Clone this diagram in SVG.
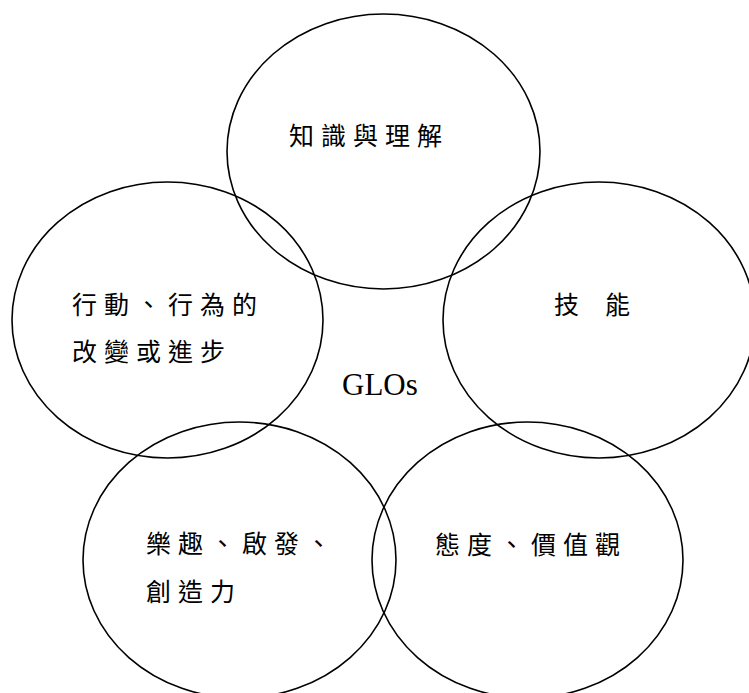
<svg xmlns="http://www.w3.org/2000/svg" width="749" height="693" viewBox="0 0 749 693">
<style>
.c{fill:none;stroke:#000;stroke-width:1.6}
.t{font-family:"Liberation Serif","Noto Sans CJK TC",serif;font-size:25px;letter-spacing:7px;fill:#000}
.g{font-family:"Liberation Serif",serif;font-size:31px;fill:#000}
</style>
<rect width="749" height="693" fill="#fff"/>
<g id="knowledge"><ellipse class="c" cx="383.5" cy="151.5" rx="156.5" ry="137.5"/><text class="t" x="289" y="145">知識與理解</text></g>
<g id="action"><ellipse class="c" cx="167.5" cy="320" rx="155.5" ry="138"/><text class="t" x="72" y="314">行動、行為的</text><text class="t" x="72" y="361">改變或進步</text></g>
<g id="skills"><ellipse class="c" cx="599" cy="320" rx="156" ry="138"/><text class="t" x="554" y="314">技</text><text class="t" x="605" y="314">能</text></g>
<g id="enjoyment"><ellipse class="c" cx="239.5" cy="560" rx="156.5" ry="138"/><text class="t" x="146" y="553">樂趣、啟發、</text><text class="t" x="146" y="601">創造力</text></g>
<g id="attitudes"><ellipse class="c" cx="527.5" cy="560" rx="155.5" ry="138"/><text class="t" x="435" y="554">態度、價值觀</text></g>
<g id="center"><text class="g" x="342" y="395">GLOs</text></g>
<g id="connectors"></g>
</svg>
